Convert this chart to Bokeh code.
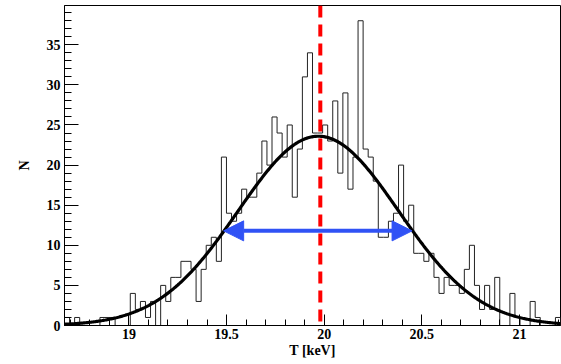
import numpy as np
from bokeh.plotting import figure
from bokeh.models import Range1d, FixedTicker, Arrow, NormalHead
from bokeh.embed import file_html
from bokeh.resources import INLINE

# ---- data -------------------------------------------------------------
# histogram: equal-width bins between hist_min and hist_max [keV]
hist_min = 18.67
hist_max = 21.21
counts = [1, 0, 1, 0, 0, 0, 0, 1, 1, 1,
          0, 0, 0, 4, 2, 3, 1, 3, 0, 5,
          3, 6, 6, 8, 8, 7, 3, 7, 10, 11,
          8, 21, 14, 13, 14, 17, 16, 16, 19, 23,
          20, 26, 24, 21, 25, 16, 22, 31, 34, 24,
          24, 25, 23, 28, 19, 29, 17, 21, 38, 22,
          21, 18, 11, 11, 13, 14, 20, 13, 15, 9,
          9, 8, 9, 6, 4, 6, 5, 5, 4, 7,
          10, 5, 2, 5, 2, 6, 0, 0, 4, 1,
          0, 0, 3, 1, 0, 0, 0, 1]

# gaussian fit
fit_amp = 23.6
fit_mean = 19.97
fit_sigma = 0.41

# vertical marker and FWHM arrow
marker_T = 19.98
fwhm_left = 19.485
fwhm_right = 20.45
fwhm_level = 11.8

y_max = 39.9

x_major = [19, 19.5, 20, 20.5, 21]
x_labels = ["19", "19.5", "20", "20.5", "21"]
x_minor = [18.7, 18.8, 18.9, 19.0, 19.1, 19.2, 19.3, 19.4, 19.5, 19.6, 19.7,
           19.8, 19.9, 20.0, 20.1, 20.2, 20.3, 20.4, 20.5, 20.6, 20.7, 20.8,
           20.9, 21.0, 21.1, 21.2]
y_major = [0, 5, 10, 15, 20, 25, 30, 35]
y_labels = ["0", "5", "10", "15", "20", "25", "30", "35"]
y_minor = list(range(0, 40))

x_title = "T [keV]"
y_title = "N"

# ---- figure -----------------------------------------------------------
FONT = "Liberation Serif"
BLUE = "#3052f5"

p = figure(width=561, height=364, output_backend="svg", toolbar_location=None,
           x_range=Range1d(hist_min, hist_max), y_range=Range1d(0, y_max),
           min_border_left=64, min_border_right=1, min_border_top=5,
           min_border_bottom=39)
p.xgrid.visible = False
p.ygrid.visible = False
p.outline_line_color = "black"
p.outline_line_width = 1
p.background_fill_color = "white"
p.border_fill_color = "white"

# histogram outline
nb = len(counts)
edges = np.linspace(hist_min, hist_max, nb + 1)
hx = np.concatenate([[edges[0]], np.repeat(edges, 2)[1:-1], [edges[-1]]])
hy = np.concatenate([[0], np.repeat(counts, 2), [0]])
p.line(hx, hy, line_color="#222222", line_width=1)

# gaussian fit curve
xg = np.linspace(hist_min, hist_max, 500)
yg = fit_amp * np.exp(-0.5 * ((xg - fit_mean) / fit_sigma) ** 2)
p.line(xg, yg, line_color="black", line_width=3.2)

# FWHM arrow
p.add_layout(Arrow(start=NormalHead(size=20, fill_color=BLUE, line_color=BLUE),
                   end=NormalHead(size=20, fill_color=BLUE, line_color=BLUE),
                   x_start=fwhm_left, x_end=fwhm_right,
                   y_start=fwhm_level, y_end=fwhm_level,
                   line_color=BLUE, line_width=4))

# red dashed marker
p.line([marker_T, marker_T], [y_max, 0], line_color="#ff0000", line_width=4,
       line_dash="12 7")

# axes
xa = p.xaxis[0]
xa.ticker = FixedTicker(ticks=x_major, minor_ticks=x_minor)
xa.major_label_overrides = {t: l for t, l in zip(x_major, x_labels)}
xa.major_tick_in = 11
xa.major_tick_out = 0
xa.minor_tick_in = 6
xa.minor_tick_out = 0
xa.major_label_standoff = 3
xa.axis_label = x_title
xa.axis_label_standoff = 1

ya = p.yaxis[0]
ya.ticker = FixedTicker(ticks=y_major, minor_ticks=y_minor)
ya.major_label_overrides = {t: l for t, l in zip(y_major, y_labels)}
ya.major_tick_in = 14
ya.major_tick_out = 0
ya.minor_tick_in = 7
ya.minor_tick_out = 0
ya.major_label_standoff = 4
ya.axis_label = y_title
ya.axis_label_standoff = 12

for ax in (xa, ya):
    ax.axis_line_color = "black"
    ax.major_tick_line_color = "black"
    ax.minor_tick_line_color = "black"
    ax.major_label_text_font = FONT
    ax.major_label_text_font_style = "bold"
    ax.major_label_text_font_size = "14px"
    ax.major_label_text_color = "black"
    ax.axis_label_text_font = FONT
    ax.axis_label_text_font_style = "bold"
    ax.axis_label_text_font_size = "14px"
    ax.axis_label_text_color = "black"

open("out.html", "w").write(file_html(p, INLINE))
